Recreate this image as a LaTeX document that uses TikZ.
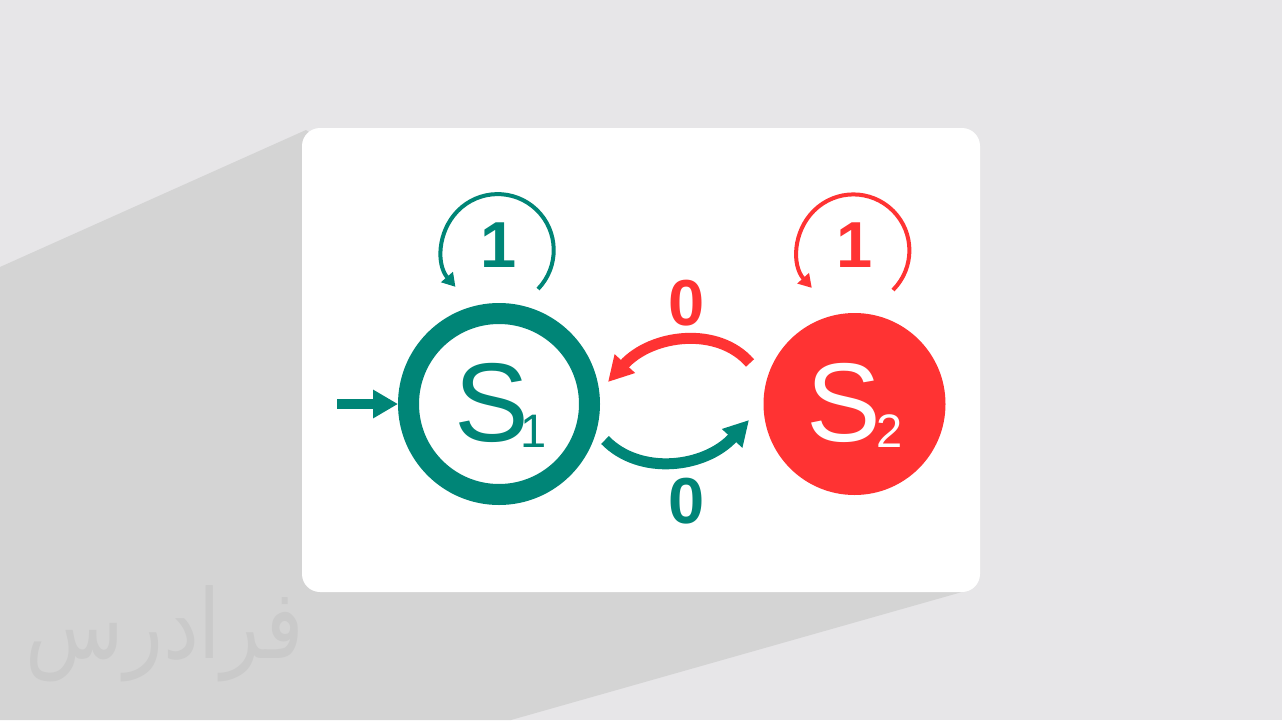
\documentclass[tikz,border=0pt]{standalone}
\usepackage{fontspec}
\setmainfont{Liberation Sans}
\newfontfamily\arabicfont[Script=Arabic]{DejaVu Sans}
\TeXXeTstate=1
\usetikzlibrary{arrows.meta}
\definecolor{bgc}{HTML}{E7E6E8}
\definecolor{shadowc}{HTML}{D4D4D4}
\definecolor{wmc}{HTML}{CACACA}
\definecolor{tealc}{HTML}{008577}
\definecolor{redc}{HTML}{FF3333}
\newcommand{\subdigit}[1]{\raisebox{-6pt}{\fontsize{47}{47}\selectfont #1}}
\begin{document}
\begin{tikzpicture}[x=1pt,y=-1pt,
  txt/.style={anchor=base, inner sep=0pt, outer sep=0pt},
  bigS/.style={anchor=base west, inner sep=0pt, outer sep=0pt, font=\fontsize{112}{112}\selectfont},
  lbl/.style={txt, font=\bfseries\fontsize{65}{65}\selectfont},
  trans/.style={line width=11pt, -{Triangle[length=25pt,width=26pt]}},
  loopline/.style={line width=4pt, -{Triangle[length=13pt,width=15pt]}}]
\useasboundingbox (0,0) rectangle (1282,720);
\fill[bgc] (0,0) rectangle (1282,720);
\fill[shadowc] (306,130) -- (0,267) -- (0,720) -- (511,720) -- (962,592) -- cycle;
\node[text=wmc, font=\arabicfont\fontsize{96}{96}\selectfont, inner sep=0pt, xscale=0.84, transform shape] (wm) at (165,634) {\beginR فرادرس\endR};
\fill[white, rounded corners=18pt] (302,128) rectangle (980,592);

% states
\node[circle, draw=tealc, line width=21pt, minimum size=181pt, inner sep=0pt] (s1) at (499,404) {};
\node[circle, fill=redc, minimum size=182pt, inner sep=0pt] (s2) at (854.5,404) {};
\node[bigS, text=tealc] (s1t) at (454,441) {S\kern-8.5pt\subdigit{1}};
\node[bigS, text=white] (s2t) at (806,441) {S\kern-4pt\subdigit{2}};

% initial arrow
\coordinate (init) at (337,404);
\draw[tealc, line width=10pt, -{Triangle[length=25pt,width=27pt]}] (init) -- (s1.west);

% transitions
\coordinate (r0) at (750,363);
\coordinate (r1) at (608,382);
\draw[redc, trans] (r0) .. controls (718,326) and (652,334) .. (r1);
\coordinate (t0) at (605,440);
\coordinate (t1) at (749,420);
\draw[tealc, trans] (t0) .. controls (640,476) and (705,468) .. (t1);
\node[lbl, text=redc] (z1) at (687,325) {0};
\node[lbl, text=tealc] (z2) at (687,523) {0};

% self loops
\coordinate (l1) at (538,289);
\draw[tealc, loopline] (l1) arc[start angle=44, end angle=-221, radius=56];
\coordinate (l2) at (893,290);
\draw[redc, loopline] (l2) arc[start angle=45, end angle=-222, radius=56];
\node[lbl, text=tealc] (o1) at (499,267) {1};
\node[lbl, text=redc] (o2) at (855,267) {1};
\end{tikzpicture}
\end{document}
